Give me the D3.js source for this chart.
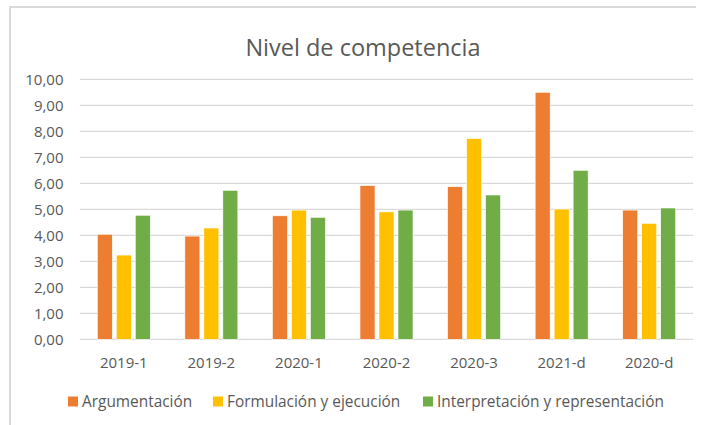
<!DOCTYPE html>
<html>
<head>
<meta charset="utf-8">
<script src="https://cdn.jsdelivr.net/npm/d3@7"></script>
<style>
  body { margin: 0; background: #fff; }
  svg text { font-family: "Open Sans", sans-serif; fill: #595959; }
</style>
</head>
<body>
<svg id="chart" width="704" height="425"></svg>
<script>
// data
let categories = ["2019-1", "2019-2", "2020-1", "2020-2", "2020-3", "2021-d", "2020-d"];
let seriesNames = ["Argumentación", "Formulación y ejecución", "Interpretación y representación"];
let argumentacion = [4.04, 3.97, 4.75, 5.91, 5.87, 9.50, 4.97];
let formulacion = [3.24, 4.28, 4.97, 4.90, 7.72, 5.01, 4.46];
let interpretacion = [4.77, 5.73, 4.69, 4.97, 5.55, 6.50, 5.05];
let yTicks = [0, 1, 2, 3, 4, 5, 6, 7, 8, 9, 10];

let colors = ["#ED7D31", "#FFC000", "#70AD47"];
let values = [argumentacion, formulacion, interpretacion];

let svg = d3.select("#chart");

// chart frame (only top and left visible in the picture)
svg.append("path")
    .attr("d", "M10,425 V7 H696")
    .attr("fill", "none")
    .attr("stroke", "#D9D9D9")
    .attr("stroke-width", 2);

let x = d3.scaleBand()
    .domain(categories)
    .range([80, 693])
    .paddingInner(0.395)
    .paddingOuter(0.1975);

let xs = d3.scaleBand()
    .domain(d3.range(seriesNames.length))
    .range([0, x.bandwidth()])
    .paddingInner(0.21);

let y = d3.scaleLinear()
    .domain([0, 10])
    .range([339.3, 79.3]);

let fmt = (v) => d3.format(".2f")(v).replace(".", ",");

// gridlines
svg.append("g")
    .selectAll("line")
    .data(yTicks)
    .enter().append("line")
    .attr("x1", 80)
    .attr("x2", 693)
    .attr("y1", (d) => y(d))
    .attr("y2", (d) => y(d))
    .attr("stroke", "#D9D9D9")
    .attr("stroke-width", 1.3);

// y tick labels
svg.append("g")
    .selectAll("text")
    .data(yTicks)
    .enter().append("text")
    .attr("x", 63.5)
    .attr("y", (d) => y(d))
    .attr("dy", "0.35em")
    .attr("text-anchor", "end")
    .style("font-size", "15px")
    .text(fmt);

// bars
let rows = [];
categories.forEach((c, i) => {
    values.forEach((vals, s) => rows.push({cat: c, s: s, v: vals[i]}));
});

svg.append("g")
    .selectAll("rect")
    .data(rows)
    .enter().append("rect")
    .attr("x", (d) => x(d.cat) + xs(d.s))
    .attr("width", xs.bandwidth())
    .attr("y", (d) => y(d.v))
    .attr("height", (d) => y(0) - y(d.v))
    .attr("fill", (d) => colors[d.s])
    .attr("stroke", "#fff")
    .attr("stroke-width", 0.6);

// x tick labels
svg.append("g")
    .selectAll("text")
    .data(categories)
    .enter().append("text")
    .attr("x", (d) => x(d) + x.bandwidth() / 2)
    .attr("y", 363)
    .attr("dy", "0.35em")
    .attr("text-anchor", "middle")
    .style("font-size", "15px")
    .text((d) => d);

// title
svg.append("text")
    .attr("x", 363)
    .attr("y", 55.5)
    .attr("text-anchor", "middle")
    .style("font-size", "23.5px")
    .text("Nivel de competencia");

// legend
let legendX = [68, 213, 423];
let legend = svg.append("g")
    .selectAll("g")
    .data(seriesNames)
    .enter().append("g")
    .attr("transform", (d, i) => "translate(" + legendX[i] + ",0)");

legend.append("rect")
    .attr("y", 396.5)
    .attr("width", 10)
    .attr("height", 10)
    .attr("fill", (d, i) => colors[i]);

legend.append("text")
    .attr("x", 14)
    .attr("y", 401.5)
    .attr("dy", "0.35em")
    .style("font-size", "15.4px")
    .text((d) => d);
</script>
</body>
</html>
